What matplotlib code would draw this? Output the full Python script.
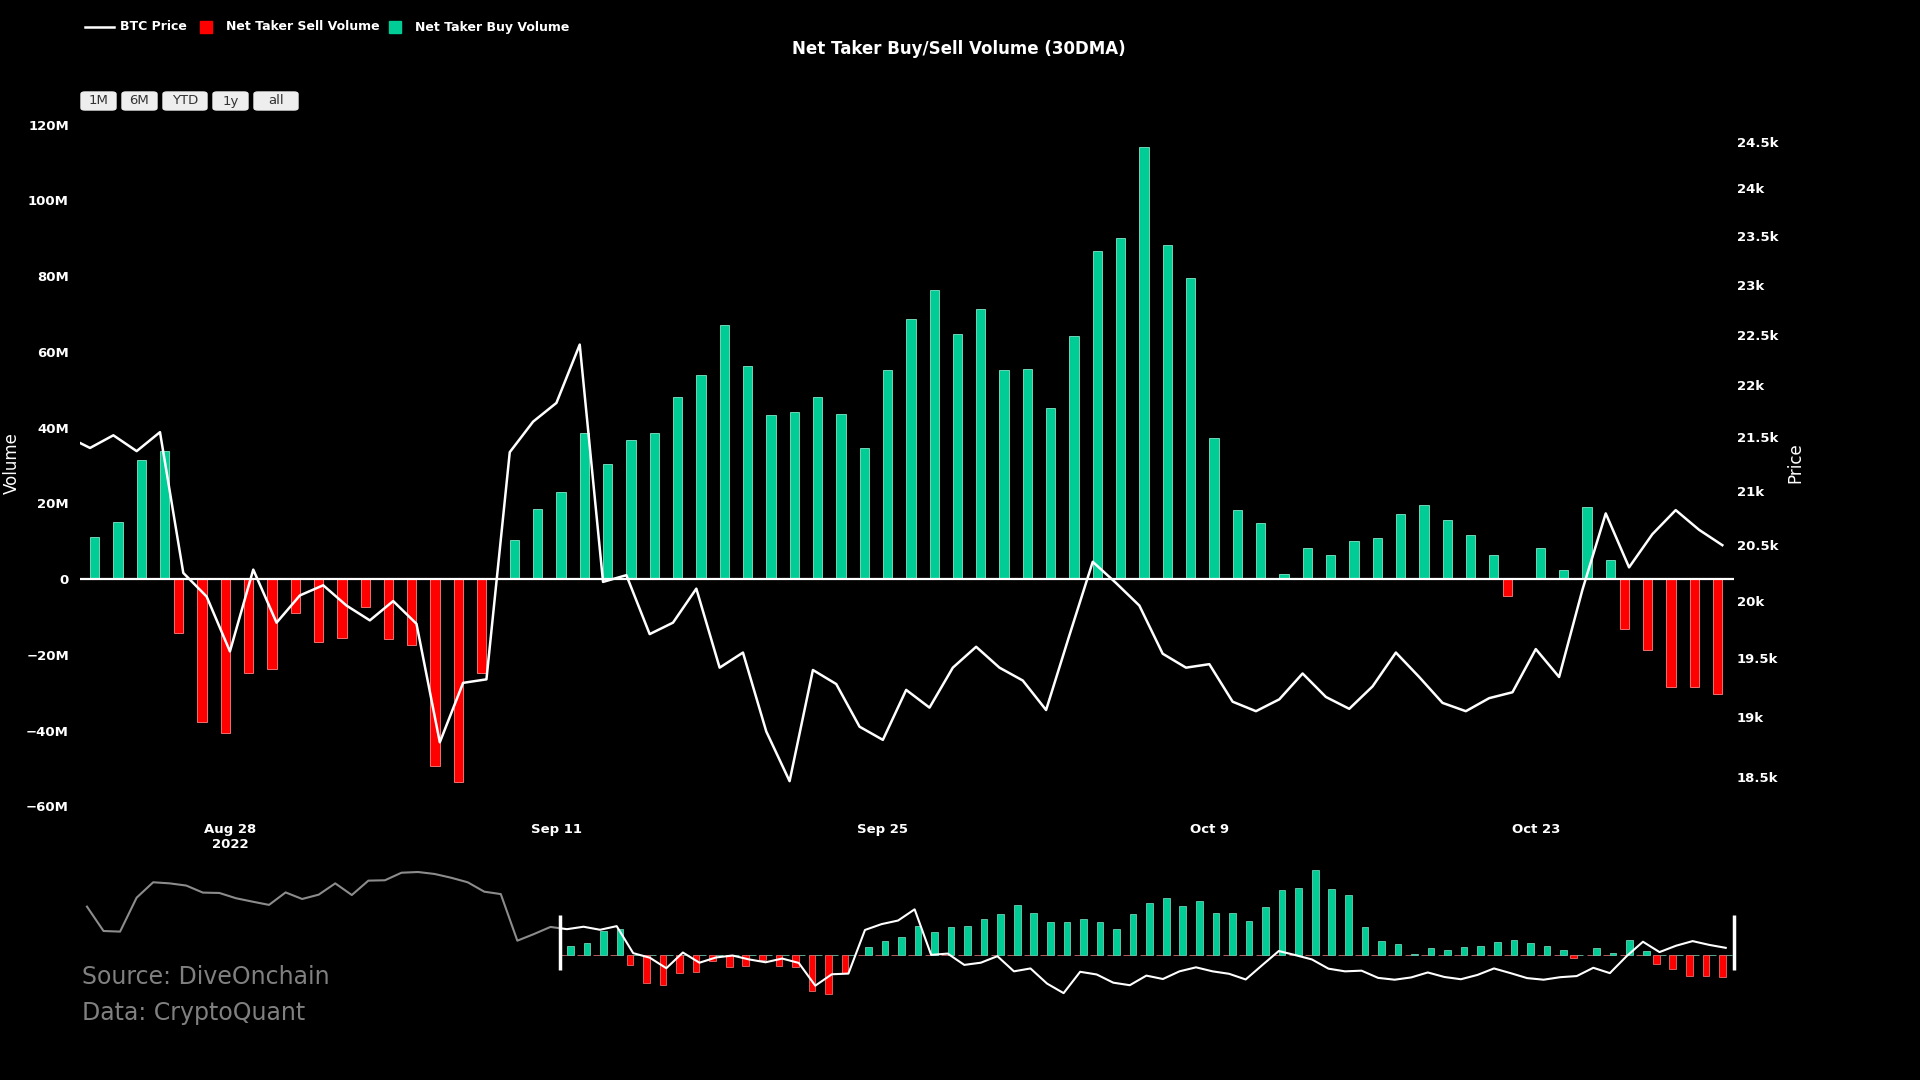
import numpy as np
import matplotlib
matplotlib.use("Agg")
import matplotlib.pyplot as plt
import matplotlib.dates as mdates
from matplotlib.patches import FancyBboxPatch, Rectangle

# net taker volume (30DMA), millions, daily from 2022-08-22; + buy, - sell
net_volume = [11.2, 15.1, 31.5, 33.8, -14.2, -37.8, -40.6, -24.7, -23.7, -9.0,
              -16.7, -15.5, -7.3, -15.9, -17.3, -49.4, -53.6, -24.9, 10.3, 18.5,
              23.0, 38.5, 30.4, 36.7, 38.5, 48.2, 54.0, 67.2, 56.3, 43.3,
              44.0, 48.0, 43.7, 34.6, 55.1, 68.7, 76.4, 64.6, 71.4, 55.3,
              55.4, 45.1, 64.1, 86.7, 90.0, 114.2, 88.2, 79.5, 37.3, 18.3,
              14.7, 1.4, 8.2, 6.4, 10.1, 10.9, 17.3, 19.5, 15.5, 11.7,
              6.4, -4.4, 8.2, 2.3, 19.1, 5.0, -13.1, -18.7, -28.6, -28.6, -30.3]
vol_start = np.datetime64("2022-08-22")

# BTC price, daily from 2022-07-24
btc_price = [22540, 21310, 21280, 23010, 23840, 23780, 23660, 23280, 23260, 22980,
             22800, 22630, 23290, 22940, 23170, 23780, 23150, 23930, 23950, 24370,
             24410, 24300, 24090, 23840, 23330, 23200, 20840, 21160, 21510,
             21400, 21520, 21370, 21550, 20250, 20040, 19560, 20280, 19810, 20050,
             20140, 19960, 19830, 20000, 19800, 18790, 19290, 19320, 21360, 21650,
             21830, 22400, 20170, 20230, 19710, 19810, 20110, 19420, 19550, 18880,
             18470, 19400, 19280, 18920, 18810, 19230, 19080, 19420, 19600, 19420,
             19310, 19060, 19700, 20350, 20160, 19960, 19540, 19420, 19450, 19130,
             19050, 19150, 19370, 19170, 19070, 19260, 19550, 19340, 19120, 19050,
             19160, 19210, 19580, 19340, 20100, 20790, 20300, 20600, 20820, 20640, 20500]
price_start = np.datetime64("2022-07-24")

vol_ticks = [-60, -40, -20, 0, 20, 40, 60, 80, 100, 120]
price_ticks = [18500, 19000, 19500, 20000, 20500, 21000, 21500, 22000, 22500, 23000, 23500, 24000, 24500]
date_ticks = ["2022-08-28", "2022-09-11", "2022-09-25", "2022-10-09", "2022-10-23"]
date_tick_labels = ["Aug 28\n2022", "Sep 11", "Sep 25", "Oct 9", "Oct 23"]
buttons = ["1M", "6M", "YTD", "1y", "all"]

GREEN = "#00cc96"
RED = "#ff0000"
W, H = 1920, 1080

plt.rcParams.update({"font.family": "DejaVu Sans", "text.color": "white"})

vol = np.array(net_volume)
vd = mdates.date2num(vol_start + np.arange(len(vol)))
pd_ = mdates.date2num(price_start + np.arange(len(btc_price)))
price = np.array(btc_price)
buy = np.where(vol > 0, vol, 0)
sell = np.where(vol < 0, vol, 0)

fig = plt.figure(figsize=(19.2, 10.8), dpi=100, facecolor="black")


def frac(x0, y0, x1, y1):
    return [x0 / W, 1 - y1 / H, (x1 - x0) / W, (y1 - y0) / H]


xlim = (vd[0] - 0.43, vd[-1] + 0.5)

# main panel
ax = fig.add_axes(frac(80, 117, 1734, 812), facecolor="black")
ax.bar(vd - 0.2, sell, width=0.4, color=RED, edgecolor="#ff8080", lw=0.6, zorder=2)
ax.bar(vd + 0.2, buy, width=0.4, color=GREEN, edgecolor="#7fe6c8", lw=0.6, zorder=2)
ax.axhline(0, color="white", lw=1.6, zorder=3)
ax.set_ylim(-61.5, 122)
ax.set_xlim(*xlim)
ax.set_yticks(vol_ticks)
ax.set_yticklabels([("\u2212%dM" % -v) if v < 0 else ("%dM" % v if v else "0") for v in vol_ticks])
ax.set_xticks(mdates.date2num(np.array(date_ticks, dtype="datetime64[D]")))
ax.set_xticklabels(date_tick_labels)
ax.tick_params(colors="white", labelsize=9.5, length=0, pad=8)
for lab in ax.get_xticklabels() + ax.get_yticklabels():
    lab.set_fontweight("bold")
for s in ax.spines.values():
    s.set_visible(False)
fig.text(12 / W, 1 - 463 / H, "Volume", rotation=90, ha="center", va="center", fontsize=12)

ax2 = ax.twinx()
ax2.plot(pd_, price, color="white", lw=1.8, zorder=4)
ax2.set_yscale("log")
ax2.set_ylim(18220, 24770)
ax2.set_xlim(*xlim)
ax2.set_yticks(price_ticks)
ax2.set_yticklabels([f"{p / 1000:g}k" for p in price_ticks])
ax2.yaxis.set_minor_locator(matplotlib.ticker.NullLocator())
ax2.tick_params(colors="white", labelsize=9.5, length=0, pad=2)
for lab in ax2.get_yticklabels():
    lab.set_fontweight("bold")
for s in ax2.spines.values():
    s.set_visible(False)
fig.text(1795 / W, 1 - 463 / H, "Price", rotation=90, ha="center", va="center", fontsize=12)

# range slider
sx0 = mdates.date2num(price_start) - 0.3
sl = fig.add_axes(frac(82, 866, 1734, 1000), facecolor="black")
sl.bar(vd - 0.2, sell, width=0.4, color=RED, edgecolor="#ff8080", lw=0.5)
sl.bar(vd + 0.2, buy, width=0.4, color=GREEN, edgecolor="#7fe6c8", lw=0.5)
sl.set_ylim(-61, 119)
sl.set_xlim(sx0, xlim[1])
sl.axis("off")
sl2 = sl.twinx()
sl2.plot(pd_, price, color="white", lw=1.5)
sl2.set_yscale("log")
sl2.set_ylim(18180, 24750)
sl2.set_xlim(sx0, xlim[1])
sl2.axis("off")
sl2.add_patch(Rectangle((sx0, 18180), xlim[0] - sx0, 24750 - 18180, color="black", alpha=0.45, zorder=5))
for xh in xlim:
    sl2.plot([xh, xh], [19500, 22100], color="white", lw=2.5, zorder=6,
             solid_capstyle="butt", clip_on=False)

# title, legend, buttons, source
fig.text(959 / W, 1 - 49 / H, "Net Taker Buy/Sell Volume (30DMA)", ha="center", va="center",
         fontsize=12, fontweight="bold")
fig.add_artist(plt.Line2D([85 / W, 114 / W], [1 - 27 / H] * 2, color="white", lw=1.8))
fig.text(120 / W, 1 - 27 / H, "BTC Price", va="center", fontsize=9, fontweight="bold")
fig.add_artist(Rectangle((200 / W, 1 - 33 / H), 12 / W, 12 / H, color=RED))
fig.text(226 / W, 1 - 27 / H, "Net Taker Sell Volume", va="center", fontsize=9, fontweight="bold")
fig.add_artist(Rectangle((389 / W, 1 - 33 / H), 12 / W, 12 / H, color=GREEN))
fig.text(415 / W, 1 - 27 / H, "Net Taker Buy Volume", va="center", fontsize=9, fontweight="bold")

bx = 81
for b in buttons:
    bw = 17 + 9 * len(b)
    fig.add_artist(FancyBboxPatch((bx / W, 1 - 110 / H), bw / W, 18 / H,
                                  boxstyle="round,pad=0,rounding_size=0.002", color="#eeeeee"))
    fig.text((bx + bw / 2) / W, 1 - 101 / H, b, ha="center", va="center", fontsize=9.5, color="#333333")
    bx += bw + 6

fig.text(82 / W, 1 - 977 / H, "Source: DiveOnchain", va="center", fontsize=17, color="#808080")
fig.text(82 / W, 1 - 1013 / H, "Data: CryptoQuant", va="center", fontsize=17, color="#808080")

fig.savefig("out.png", dpi=100, facecolor="black")
